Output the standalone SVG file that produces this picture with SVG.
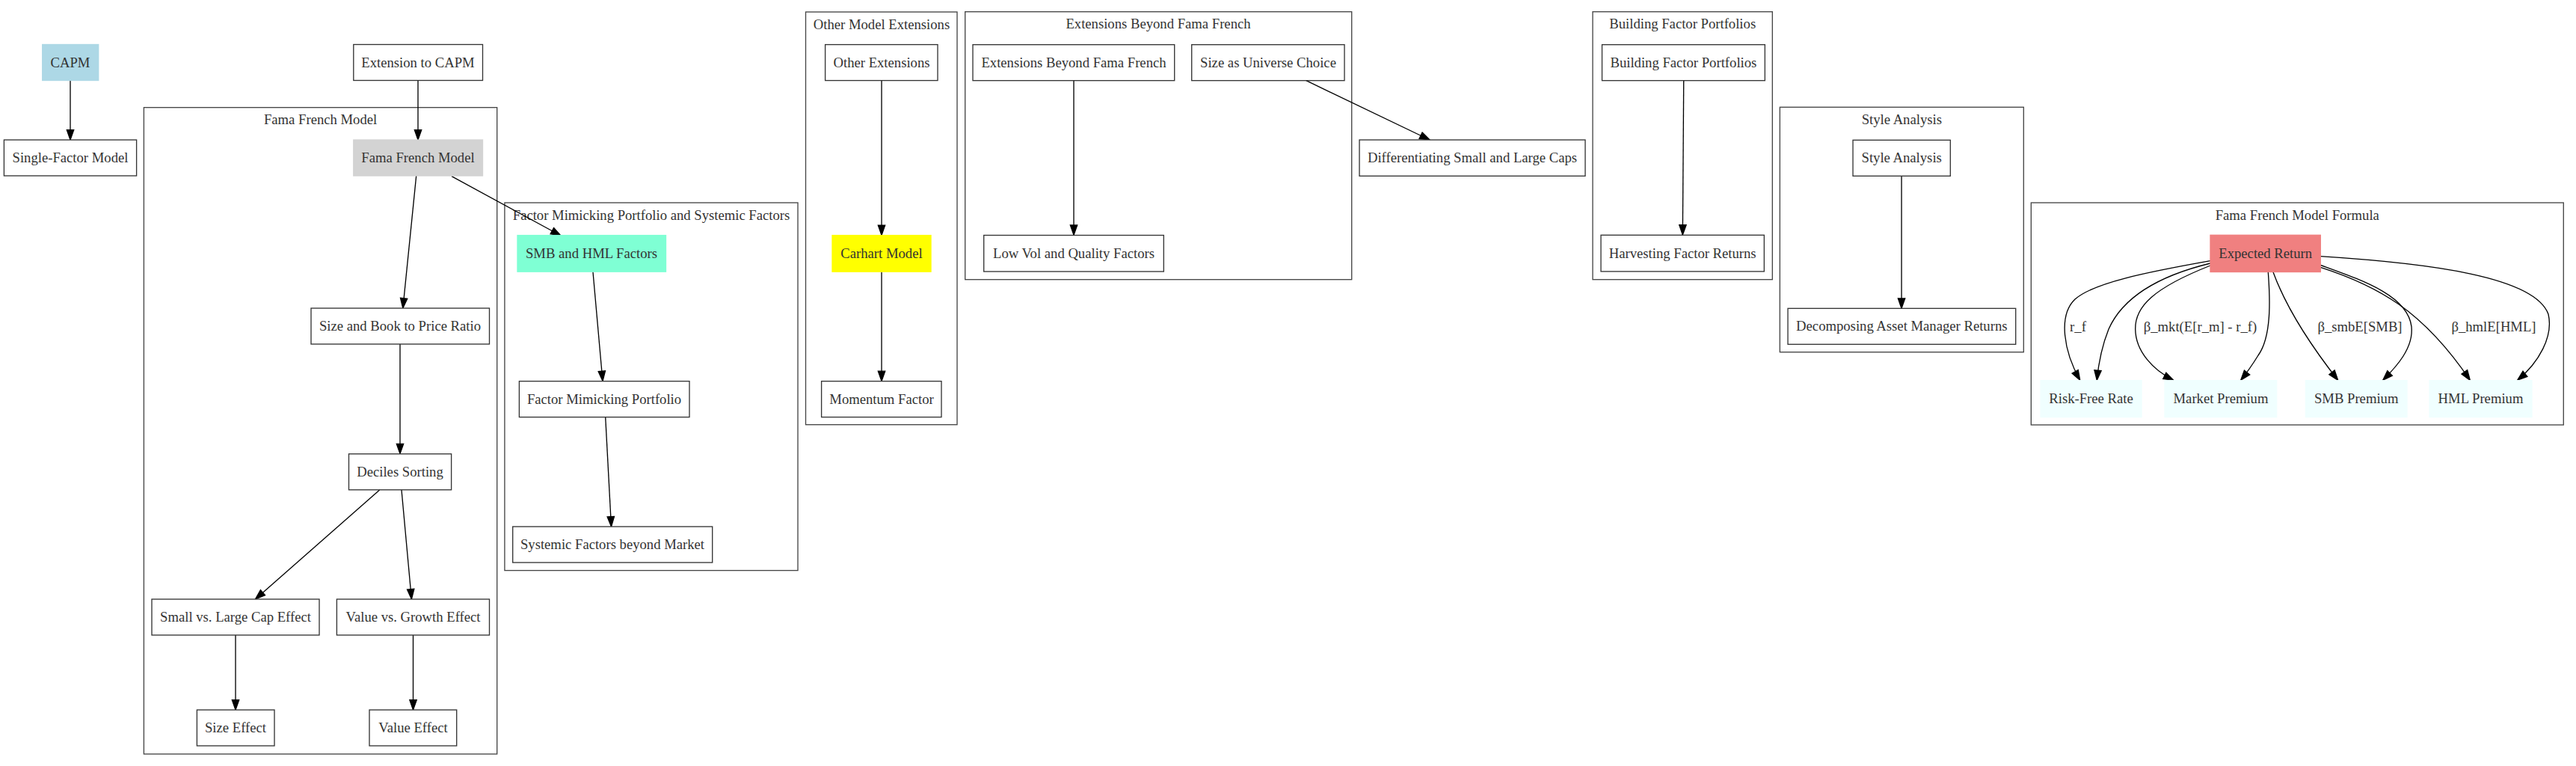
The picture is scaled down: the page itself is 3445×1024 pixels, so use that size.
<svg xmlns="http://www.w3.org/2000/svg" width="3445" height="1024" viewBox="0 0 3445 1024">
<style>
text{font-family:"Liberation Serif","Times New Roman",serif;font-size:18.67px;fill:#333;text-anchor:middle}
.cl{fill:none;stroke:#444;stroke-width:1.33}
.nd{fill:#fff;stroke:#333;stroke-width:1.33}
.e{fill:none;stroke:#000;stroke-width:1.33;marker-end:url(#ah)}
</style>
<defs>
<marker id="ah" markerUnits="userSpaceOnUse" markerWidth="16" markerHeight="12" refX="13.3" refY="4.67" orient="auto" overflow="visible">
<path d="M0,0 L13.3,4.67 L0,9.33 Z" fill="#000" stroke="#000" stroke-width="1.33"/>
</marker>
</defs>
<rect width="3445" height="1024" fill="#fff"/>

<g id="cluster-fama-french">
<rect class="cl" x="192.4" y="143.7" width="472.3" height="864.3"/>
<text x="428.6" y="166.2">Fama French Model</text>
</g>
<g id="cluster-fmp">
<rect class="cl" x="674.9" y="271" width="392.1" height="491.6"/>
<text x="871" y="293.5">Factor Mimicking Portfolio and Systemic Factors</text>
</g>
<g id="cluster-other">
<rect class="cl" x="1077.5" y="16" width="202.5" height="551.7"/>
<text x="1179" y="38.5">Other Model Extensions</text>
</g>
<g id="cluster-ebff">
<rect class="cl" x="1290.7" y="15.7" width="517" height="358"/>
<text x="1549" y="38.3">Extensions Beyond Fama French</text>
</g>
<g id="cluster-bfp">
<rect class="cl" x="2130" y="15.7" width="240.3" height="358"/>
<text x="2250.2" y="38.3">Building Factor Portfolios</text>
</g>
<g id="cluster-style">
<rect class="cl" x="2380.3" y="143.3" width="326" height="327.4"/>
<text x="2543.3" y="166">Style Analysis</text>
</g>
<g id="cluster-formula">
<rect class="cl" x="2716.3" y="271" width="712" height="297"/>
<text x="3072.3" y="293.5">Fama French Model Formula</text>
</g>

<g id="connectors">
<path class="e" d="M94,107.5 L94,187"/>
<path class="e" d="M559,107.5 L559,187"/>
<path class="e" d="M556.7,235 L538.8,412"/>
<path class="e" d="M604,235.7 L750,315"/>
<path class="e" d="M535,460 L535,606.6"/>
<path class="e" d="M507.6,655 L341.5,801"/>
<path class="e" d="M537,655 L550.4,801"/>
<path class="e" d="M315,849 L315,949"/>
<path class="e" d="M552.5,849 L552.5,949"/>
<path class="e" d="M793,363.7 L806,509.5"/>
<path class="e" d="M809.7,557.7 L817.5,704"/>
<path class="e" d="M1179,107.5 L1179,314.4"/>
<path class="e" d="M1179,363.7 L1179,509.5"/>
<path class="e" d="M1436,107.7 L1436,314.3"/>
<path class="e" d="M1746.7,107.7 L1912,187"/>
<path class="e" d="M2251.7,107.7 L2250.3,314"/>
<path class="e" d="M2543,235.3 L2543,412.3"/>
<path class="e" d="M2956,348.7 C2870,364 2800,378 2775,400 C2752,422 2760,470 2781.7,508.3"/>
<path class="e" d="M2956,352 C2890,368 2840,395 2820,440 C2810,465 2806,490 2804.3,508.3"/>
<path class="e" d="M2956,355 C2880,385 2855,410 2855.7,440 C2856,470 2880,495 2906.7,508.3"/>
<path class="e" d="M3033.3,363.7 C3036,400 3038,450 3020,475 C3012,488 3005,498 2996.7,508.3"/>
<path class="e" d="M3040,363.7 C3055,405 3085,455 3126.7,508.3"/>
<path class="e" d="M3103.3,354.3 C3160,375 3220,395 3225,436.7 C3228,465 3205,490 3186.7,508.3"/>
<path class="e" d="M3103.3,357.3 C3180,382 3240,415 3303.3,508.3"/>
<path class="e" d="M3103.3,342.7 C3250,352 3390,370 3408,420 C3415,450 3395,485 3366.7,508.3"/>
<text x="2779" y="442.7">r_f</text>
<text x="2942.5" y="442.7">β_mkt(E[r_m] - r_f)</text>
<text x="3156" y="442.7">β_smbE[SMB]</text>
<text x="3335" y="442.7">β_hmlE[HML]</text>
</g>

<g id="n-capm"><rect x="56.7" y="59.5" width="75" height="48" fill="#ADD8E6" stroke="#ADD8E6" stroke-width="1.33"/><text x="94" y="89.5">CAPM</text></g>
<g id="n-single"><rect class="nd" x="5.4" y="187" width="177.2" height="48"/><text x="94" y="217">Single-Factor Model</text></g>
<g id="n-ext-capm"><rect class="nd" x="472.8" y="59.5" width="172.7" height="48"/><text x="559" y="89.5">Extension to CAPM</text></g>
<g id="n-ff"><rect x="472.8" y="187" width="172.7" height="48" fill="#D3D3D3" stroke="#D3D3D3" stroke-width="1.33"/><text x="559" y="217">Fama French Model</text></g>
<g id="n-size-book"><rect class="nd" x="416" y="412" width="238.5" height="48"/><text x="535" y="442">Size and Book to Price Ratio</text></g>
<g id="n-deciles"><rect class="nd" x="466.5" y="606.8" width="137.1" height="48"/><text x="535" y="636.8">Deciles Sorting</text></g>
<g id="n-small-large"><rect class="nd" x="203" y="801" width="224" height="48"/><text x="315" y="831">Small vs. Large Cap Effect</text></g>
<g id="n-value-growth"><rect class="nd" x="450.4" y="801" width="204.1" height="48"/><text x="552.5" y="831">Value vs. Growth Effect</text></g>
<g id="n-size-effect"><rect class="nd" x="263.4" y="949" width="103.6" height="48"/><text x="315" y="979">Size Effect</text></g>
<g id="n-value-effect"><rect class="nd" x="494" y="949" width="116.7" height="48"/><text x="552.5" y="979">Value Effect</text></g>
<g id="n-smb-hml"><rect x="692" y="314.6" width="198.5" height="48.6" fill="#7FFFD4" stroke="#7FFFD4" stroke-width="1.33"/><text x="791" y="345">SMB and HML Factors</text></g>
<g id="n-fmp"><rect class="nd" x="694.4" y="509.6" width="227.6" height="48"/><text x="808" y="539.6">Factor Mimicking Portfolio</text></g>
<g id="n-sfbm"><rect class="nd" x="685.7" y="704" width="267" height="48"/><text x="819" y="734">Systemic Factors beyond Market</text></g>
<g id="n-other-ext"><rect class="nd" x="1103.6" y="59.6" width="150.4" height="48"/><text x="1179" y="89.6">Other Extensions</text></g>
<g id="n-carhart"><rect x="1113" y="314.6" width="132" height="48.6" fill="#FFFF00" stroke="#FFFF00" stroke-width="1.33"/><text x="1179" y="345">Carhart Model</text></g>
<g id="n-momentum"><rect class="nd" x="1098.6" y="509.6" width="160.4" height="48"/><text x="1179" y="539.6">Momentum Factor</text></g>
<g id="n-ebff"><rect class="nd" x="1301" y="59.7" width="269.7" height="48"/><text x="1436" y="89.7">Extensions Beyond Fama French</text></g>
<g id="n-sauc"><rect class="nd" x="1593.7" y="59.7" width="204.3" height="48"/><text x="1696" y="89.7">Size as Universe Choice</text></g>
<g id="n-lowvol"><rect class="nd" x="1315.7" y="314.5" width="240.6" height="48.5"/><text x="1436" y="344.8">Low Vol and Quality Factors</text></g>
<g id="n-dslc"><rect class="nd" x="1818" y="187" width="302" height="48.3"/><text x="1969" y="217.2">Differentiating Small and Large Caps</text></g>
<g id="n-bfp"><rect class="nd" x="2142.5" y="59.7" width="217.8" height="48"/><text x="2251.4" y="89.7">Building Factor Portfolios</text></g>
<g id="n-harvest"><rect class="nd" x="2141" y="314.3" width="218.3" height="48.6"/><text x="2250.2" y="344.7">Harvesting Factor Returns</text></g>
<g id="n-style"><rect class="nd" x="2478" y="187.3" width="130.3" height="48"/><text x="2543.2" y="217.3">Style Analysis</text></g>
<g id="n-decomp"><rect class="nd" x="2391" y="412.3" width="304.7" height="48"/><text x="2543.3" y="442.3">Decomposing Asset Manager Returns</text></g>
<g id="n-expected"><rect x="2956" y="314.3" width="147.3" height="49.2" fill="#F08080" stroke="#F08080" stroke-width="1.33"/><text x="3029.7" y="344.8">Expected Return</text></g>
<g id="n-riskfree"><rect x="2729" y="508.6" width="135" height="49" fill="#F0FFFF" stroke="#F0FFFF" stroke-width="1.33"/><text x="2796.5" y="539">Risk-Free Rate</text></g>
<g id="n-market"><rect x="2895" y="508.6" width="149.7" height="49" fill="#F0FFFF" stroke="#F0FFFF" stroke-width="1.33"/><text x="2970" y="539">Market Premium</text></g>
<g id="n-smb-prem"><rect x="3083.3" y="508.6" width="135.7" height="49" fill="#F0FFFF" stroke="#F0FFFF" stroke-width="1.33"/><text x="3151.2" y="539">SMB Premium</text></g>
<g id="n-hml-prem"><rect x="3249" y="508.6" width="137" height="49" fill="#F0FFFF" stroke="#F0FFFF" stroke-width="1.33"/><text x="3317.5" y="539">HML Premium</text></g>
</svg>
